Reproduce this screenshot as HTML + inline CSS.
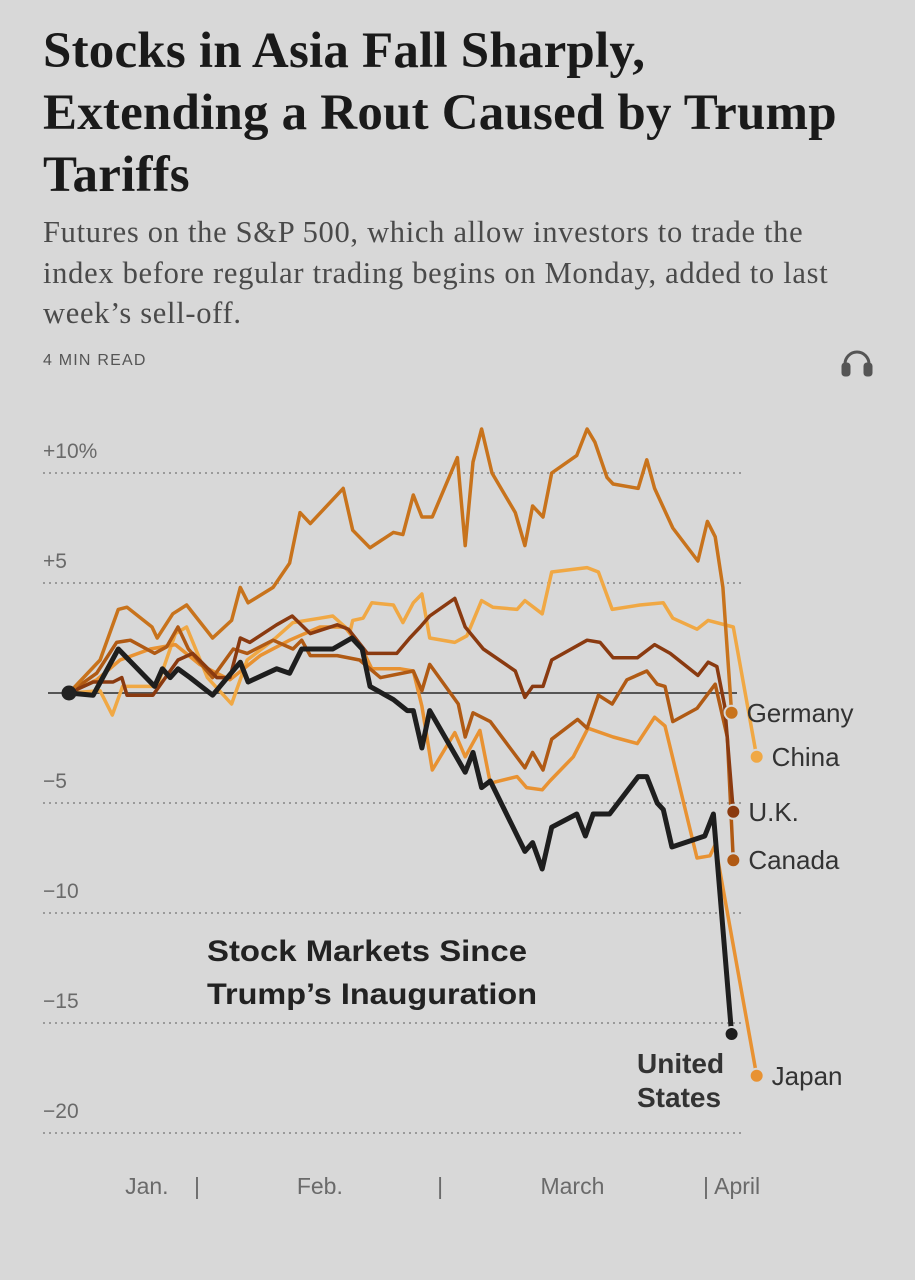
<!DOCTYPE html>
<html><head><meta charset="utf-8">
<style>
html,body{margin:0;padding:0;background:#d8d8d8;}
body{width:915px;height:1280px;position:relative;overflow:hidden;font-family:"Liberation Sans",sans-serif;}
.title{position:absolute;left:43px;top:20px;width:880px;font-family:"Liberation Serif",serif;font-weight:bold;font-size:51px;line-height:62px;color:#1a1a1a;letter-spacing:0.2px;white-space:nowrap;}
.sub{position:absolute;left:43px;top:212px;width:880px;font-family:"Liberation Serif",serif;font-size:30.5px;line-height:40.5px;color:#4a4a4a;white-space:nowrap;letter-spacing:0.7px;}
.read{position:absolute;left:43px;top:352px;font-size:16px;letter-spacing:1.2px;color:#555;}
svg{position:absolute;left:0;top:0;}
</style></head>
<body>
<div class="title">Stocks in Asia Fall Sharply,<br>Extending a Rout Caused by Trump<br>Tariffs</div>
<div class="sub">Futures on the S&amp;P 500, which allow investors to trade the<br>index before regular trading begins on Monday, added to last<br>week’s sell-off.</div>
<div class="read">4 MIN READ</div>
<svg width="915" height="1280">
  <g fill="none" stroke="#555" stroke-width="3">
    <path d="M845 372 v-8 a12 12 0 0 1 24 0 v8"/>
    <rect x="843" y="364" width="6" height="11" rx="2" fill="#555"/>
    <rect x="865" y="364" width="6" height="11" rx="2" fill="#555"/>
  </g>
  <g id="grid"></g>
  <g id="lines"></g>
  <g id="labels" font-family="Liberation Sans, sans-serif"></g>
  <text x="207" y="961" font-size="30" font-weight="bold" fill="#222" textLength="320" lengthAdjust="spacingAndGlyphs">Stock Markets Since</text>
  <text x="207" y="1004" font-size="30" font-weight="bold" fill="#222" textLength="330" lengthAdjust="spacingAndGlyphs">Trump’s Inauguration</text>
</svg>
<script>
const yTicks=[10,5,-5,-10,-15,-20];
const yTickLabels=["+10%","+5","\u22125","\u221210","\u221215","\u221220"];
const xLabels=["Jan.","|","Feb.","|","March","| April"];
const xLabelDays=[9,14.8,29,42.9,58.2,73.3];
const countries=["Germany","China","U.K.","Canada","Japan","United States"];
const colors=["#c8731c","#f0a844","#8a3a10","#b05a14","#e89232","#1e1e1e"];
const germanyDays=[0,3.6,5.7,6.7,9.6,10.2,12,13.6,16.6,18.8,19.8,20.7,23.6,25.5,26.7,27.9,31.7,32.8,34.8,37.5,38.6,39.8,40.8,42,44.9,45.8,46.7,47.7,48.9,51.6,52.7,53.6,54.8,55.8,58.7,59.9,60.8,62.2,62.9,65.8,66.8,67.7,69.8,72.7,73.8,74.7,75.6,76.6];
const germanyVals=[0,1.5,3.8,3.9,3.0,2.5,3.6,4.0,2.5,3.3,4.8,4.1,4.8,5.9,8.2,7.7,9.3,7.4,6.6,7.3,7.2,9.0,8.0,8.0,10.7,6.7,10.5,12.0,10.0,8.2,6.7,8.5,8.0,10.0,10.8,12.0,11.4,9.8,9.5,9.3,10.6,9.3,7.5,6.0,7.8,7.1,4.8,-0.9];
const chinaDays=[0,3.6,5,6.2,10.2,12.3,13.6,16,18.8,20.6,23.6,25.9,29,30.5,32.5,32.8,34,35,37.5,38.6,39.8,40.8,41.7,44.6,46,47.7,49,51.8,52.7,54.7,55.8,59.9,61.2,62.8,66,68.7,69.8,72.6,73.9,76.8,79.5];
const chinaVals=[0,0.1,-1.0,0.3,0.3,2.7,3.0,0.7,-0.5,1.5,2.4,3.2,3.4,3.5,2.8,3.3,3.4,4.1,4.0,3.2,4.1,4.5,2.5,2.3,2.6,4.2,3.9,3.8,4.2,3.6,5.5,5.7,5.5,3.8,4.0,4.1,3.4,2.9,3.3,3.0,-2.9];
const ukDays=[0,2.8,5.1,6.1,6.7,9.7,12.6,14.3,17.1,18.6,19.8,20.9,24,25.8,27.9,31,32.3,34.5,37.9,39.4,40.6,41.7,44.6,45.8,47.9,51.6,52.7,53.6,54.8,55.8,59.9,61.4,62.9,65.7,67.7,69.5,72.7,73.9,74.9,75.8,76.8];
const ukVals=[0,0.5,0.5,0.7,-0.1,-0.1,1.5,1.8,0.7,0.7,2.5,2.3,3.1,3.5,2.7,3.1,2.9,1.8,1.8,2.5,3.0,3.5,4.3,3.0,2.0,1.0,-0.2,0.3,0.3,1.5,2.4,2.3,1.6,1.6,2.2,1.8,0.8,1.4,1.2,-0.6,-5.4];
const canadaDays=[0,3.2,5.5,7.1,9.9,11.3,12.6,13.8,16.6,19,20.6,23.6,25.9,26.9,27.9,31,33.6,36,39.8,40.8,41.7,45,45.8,46.7,48.7,52.7,53.6,54.8,55.8,58.8,59.9,61.2,62.8,64.5,66.8,68,68.9,69.8,72.6,74.7,76.1,76.8];
const canadaVals=[0,0.9,2.3,2.4,1.8,2.1,3.0,2.0,0.7,2.0,1.8,2.4,2.0,2.4,1.7,1.7,1.5,0.7,1.0,0.1,1.3,-0.5,-2.0,-0.9,-1.3,-3.4,-2.7,-3.5,-2.1,-1.2,-1.6,-0.1,-0.5,0.6,1.0,0.4,0.3,-1.3,-0.7,0.4,-2.0,-7.6];
const japanDays=[0,3.2,5.9,9.4,12.3,15.1,18.6,22.1,25.5,29,31.9,33.9,35,38.3,39.8,40.8,42,44.6,45.8,47.5,48.7,51.8,52.9,54.7,55.6,58.3,60,62.9,65.7,67.7,68.9,72.6,74.1,74.7,79.5];
const japanVals=[0,0.6,1.5,2.0,2.2,1.3,0.6,1.7,2.4,3.0,3.0,2.0,1.1,1.1,1.0,-0.6,-3.5,-1.8,-2.9,-1.7,-4.1,-3.8,-4.3,-4.4,-4.0,-2.9,-1.6,-2.0,-2.3,-1.1,-1.5,-7.5,-7.4,-6.9,-17.4];
const usDays=[0,2.8,5.7,9.9,10.8,11.7,12.6,14,16.6,19.8,20.7,24,25.5,26.9,30.5,32.7,33.9,34.8,37.5,39.1,39.8,40.8,41.7,45.8,46.7,47.7,48.7,52.7,53.6,54.7,55.8,58.7,59.7,60.6,62.5,65.8,66.8,68,68.7,69.7,73.5,74.5,76.6];
const usVals=[0,-0.1,2.0,0.3,1.1,0.7,1.1,0.7,-0.1,1.4,0.5,1.1,0.9,2.0,2.0,2.5,2.0,0.3,-0.3,-0.8,-0.8,-2.5,-0.8,-3.6,-2.7,-4.3,-4.0,-7.2,-6.8,-8.0,-6.1,-5.5,-6.5,-5.5,-5.5,-3.8,-3.8,-5.0,-5.3,-7.0,-6.5,-5.5,-15.5];

const NS="http://www.w3.org/2000/svg";
const X=d=>69+d*8.65;
const Y=v=>693-v*22;
function mk(tag,attrs,parent){const e=document.createElementNS(NS,tag);for(const k in attrs)e.setAttribute(k,attrs[k]);parent.appendChild(e);return e;}
const grid=document.getElementById('grid');
yTicks.forEach((t,i)=>{
  const l=mk('line',{x1:43,x2:743,y1:Y(t),y2:Y(t),stroke:'#9a9a9a','stroke-width':2,'stroke-dasharray':'2 4'},grid);
  
  
  const tx=mk('text',{x:43,y:Y(t)-15,'font-size':21,fill:'#6a6a6a','font-family':'Liberation Sans, sans-serif'},grid);
  tx.textContent=yTickLabels[i];
  
  
});
const zl=mk('line',{x1:48,x2:737,y1:Y(0),y2:Y(0),stroke:'#555','stroke-width':2},grid);


xLabels.forEach((s,i)=>{
  const tx=mk('text',{x:X(xLabelDays[i]),y:1194,'font-size':23,fill:'#6a6a6a','text-anchor':s==='| April'?'start':'middle','font-family':'Liberation Sans, sans-serif'},grid);
  tx.textContent=s;
  
  
});
const series=[[germanyDays,germanyVals],[chinaDays,chinaVals],[ukDays,ukVals],[canadaDays,canadaVals],[japanDays,japanVals],[usDays,usVals]];
const order=[1,4,3,2,0,5];
const lines=document.getElementById('lines');
order.forEach(i=>{
  const [d,v]=series[i];
  const pts=d.map((dd,j)=>X(dd).toFixed(1)+','+Y(v[j]).toFixed(1)).join(' ');
  const pl=mk('polyline',{points:pts,fill:'none',stroke:colors[i],'stroke-width':i===5?5:3.5,'stroke-linejoin':'round','stroke-linecap':'round'},lines);
  
  
  const n=d.length-1;
  const c=mk('circle',{cx:X(d[n]),cy:Y(v[n]),r:7,fill:colors[i],stroke:'#d8d8d8','stroke-width':2},lines);
  
  
});
const first=mk('circle',{cx:X(0),cy:Y(0),r:7.5,fill:'#222'},lines);


const labels=document.getElementById('labels');
[0,1,2,3,4].forEach(i=>{
  const d=series[i][0],v=series[i][1],n=d.length-1;
  const tx=mk('text',{x:X(d[n])+15,y:Y(v[n])+9,'font-size':26,fill:'#333'},labels);
  tx.textContent=countries[i];
  
  
});
const us1=mk('text',{x:637,y:1073,'font-size':28,'font-weight':'bold',fill:'#333'},labels);
us1.textContent='United';


const us2=mk('text',{x:637,y:1107,'font-size':28,'font-weight':'bold',fill:'#333'},labels);
us2.textContent='States';


</script>
</body></html>
